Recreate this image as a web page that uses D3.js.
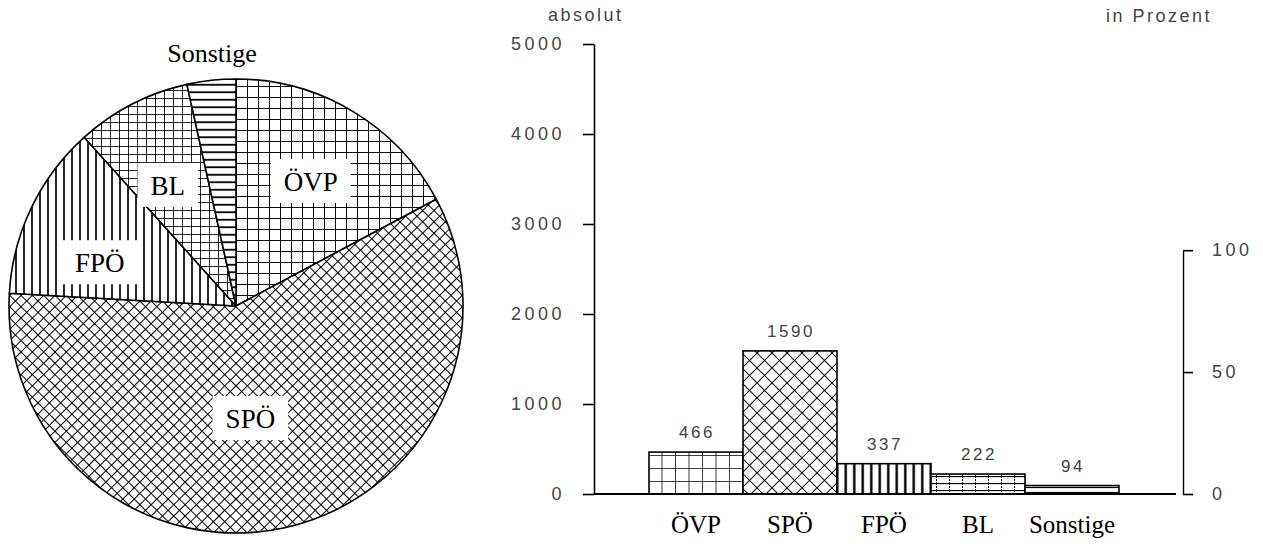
<!DOCTYPE html>
<html>
<head>
<meta charset="utf-8">
<script src="https://cdn.jsdelivr.net/npm/d3@7"></script>
<style>
  html, body { margin: 0; padding: 0; background: #fff; }
  svg { display: block; }
  .serif { font-family: "Liberation Serif", "DejaVu Serif", serif; fill: #000; }
  .sans { font-family: "Liberation Sans", Arial, sans-serif; fill: #444; }
</style>
</head>
<body>
<svg id="chart" width="1263" height="549"></svg>
<script>
// ---- data ----
const categories = ["ÖVP", "SPÖ", "FPÖ", "BL", "Sonstige"];
const values = [466, 1590, 337, 222, 94];
const leftTicks = [0, 1000, 2000, 3000, 4000, 5000];
const rightTicks = [0, 50, 100];
const leftAxisTitle = "absolut";
const rightAxisTitle = "in Prozent";

const total = d3.sum(values);
const svg = d3.select("#chart");
const defs = svg.append("defs");

// ---- hatch patterns ----
function gridPattern(id, sx, sy, w) {
  const p = defs.append("pattern").attr("id", id).attr("patternUnits", "userSpaceOnUse")
    .attr("width", sx).attr("height", sy);
  p.append("rect").attr("width", sx).attr("height", sy).attr("fill", "#fff");
  p.append("line").attr("x1", 0).attr("y1", 0).attr("x2", sx).attr("y2", 0).attr("stroke", "#000").attr("stroke-width", w);
  p.append("line").attr("x1", 0).attr("y1", 0).attr("x2", 0).attr("y2", sy).attr("stroke", "#000").attr("stroke-width", w);
}
function vPattern(id, s, w) {
  const p = defs.append("pattern").attr("id", id).attr("patternUnits", "userSpaceOnUse")
    .attr("width", s).attr("height", 10);
  p.append("rect").attr("width", s).attr("height", 10).attr("fill", "#fff");
  p.append("line").attr("x1", s / 2).attr("y1", 0).attr("x2", s / 2).attr("y2", 10).attr("stroke", "#000").attr("stroke-width", w);
}
function hPattern(id, s, w) {
  const p = defs.append("pattern").attr("id", id).attr("patternUnits", "userSpaceOnUse")
    .attr("width", 10).attr("height", s);
  p.append("rect").attr("width", 10).attr("height", s).attr("fill", "#fff");
  p.append("line").attr("x1", 0).attr("y1", s / 2).attr("x2", 10).attr("y2", s / 2).attr("stroke", "#000").attr("stroke-width", w);
}
function crossPattern(id, s, w) {
  const p = defs.append("pattern").attr("id", id).attr("patternUnits", "userSpaceOnUse")
    .attr("width", s).attr("height", s).attr("patternTransform", "rotate(45)");
  p.append("rect").attr("width", s).attr("height", s).attr("fill", "#fff");
  p.append("line").attr("x1", 0).attr("y1", 0).attr("x2", s).attr("y2", 0).attr("stroke", "#000").attr("stroke-width", w);
  p.append("line").attr("x1", 0).attr("y1", 0).attr("x2", 0).attr("y2", s).attr("stroke", "#000").attr("stroke-width", w);
}
// pie patterns
gridPattern("p-ovp", 11, 11, 1.9);
crossPattern("p-spo", 8, 2.0);
vPattern("p-fpo", 8, 1.7);
gridPattern("p-bl", 9, 8, 1.7);
hPattern("p-son", 7.5, 1.8);
// bar patterns
gridPattern("b-ovp", 13.5, 13, 1.5);
crossPattern("b-spo", 10.6, 1.8);
vPattern("b-fpo", 8.5, 2.4);
(function () {
  const p = defs.append("pattern").attr("id", "b-bl").attr("patternUnits", "userSpaceOnUse")
    .attr("width", 13).attr("height", 7);
  p.append("rect").attr("width", 13).attr("height", 7).attr("fill", "#fff");
  p.append("line").attr("x1", 0).attr("y1", 0.5).attr("x2", 13).attr("y2", 0.5).attr("stroke", "#000").attr("stroke-width", 1.3);
  p.append("line").attr("x1", 0.5).attr("y1", 0).attr("x2", 0.5).attr("y2", 7).attr("stroke", "#000").attr("stroke-width", 1.1).attr("stroke-dasharray", "2,1");
})();
hPattern("b-son", 5, 1.2);

const pieFill = ["url(#p-ovp)", "url(#p-spo)", "url(#p-fpo)", "url(#p-bl)", "url(#p-son)"];
const barFill = ["url(#b-ovp)", "url(#b-spo)", "url(#b-fpo)", "url(#b-bl)", "url(#b-son)"];

// ---- pie ----
const cx = 236, cy = 306, R = 227;
const pie = d3.pie().sort(null).startAngle(0).endAngle(2 * Math.PI);
const arcs = pie(values);
const arc = d3.arc().innerRadius(0).outerRadius(R);
const gPie = svg.append("g").attr("transform", `translate(${cx},${cy})`);
gPie.selectAll("path.slice").data(arcs).enter().append("path")
  .attr("class", "slice")
  .attr("d", arc)
  .attr("fill", (d, i) => pieFill[i])
  .attr("stroke", "#000").attr("stroke-width", 1.6).attr("stroke-linejoin", "round");

// labels inside slices (white boxes), last category label outside
const labelRadius = { "ÖVP": 0.64, "SPÖ": 0.5, "FPÖ": 0.63, "BL": 0.61 };
const labelAngleShift = { "ÖVP": 0, "SPÖ": 0.09, "FPÖ": -0.14, "BL": -0.04 };
arcs.forEach((d, i) => {
  const name = categories[i];
  if (name === "Sonstige") {
    const mid = (d.startAngle + d.endAngle) / 2;
    const lx = Math.sin(mid) * (R + 12) + 2;
    gPie.append("text").attr("class", "serif")
      .attr("x", lx).attr("y", -R - 17)
      .attr("text-anchor", "middle").attr("font-size", 26)
      .text(name);
    return;
  }
  const mid = (d.startAngle + d.endAngle) / 2 + labelAngleShift[name];
  const r = R * labelRadius[name];
  const lx = Math.sin(mid) * r, ly = -Math.cos(mid) * r;
  const g = gPie.append("g");
  const rect = g.append("rect").attr("fill", "#fff");
  const t = g.append("text").attr("class", "serif")
    .attr("x", lx).attr("y", ly).attr("dy", "0.35em")
    .attr("text-anchor", "middle").attr("font-size", 27)
    .text(name);
  const bb = t.node().getBBox();
  rect.attr("x", bb.x - 13).attr("y", bb.y - 8).attr("width", bb.width + 26).attr("height", bb.height + 14);
});

// ---- bar chart ----
const x = d3.scaleBand().domain(categories).range([649, 1119]).padding(0);
const y = d3.scaleLinear().domain([0, 5000]).range([494, 44]);
const yPct = d3.scaleLinear().domain([0, 100]).range([y(0), y(total)]);
const axisX = 594, axisRX = 1183;

svg.append("g").selectAll("rect.bar").data(values).enter().append("rect")
  .attr("class", "bar")
  .attr("x", (d, i) => x(categories[i]))
  .attr("y", d => y(d))
  .attr("width", x.bandwidth())
  .attr("height", d => y(0) - y(d))
  .attr("fill", (d, i) => barFill[i])
  .attr("stroke", "#000").attr("stroke-width", 1.6);

// baseline
svg.append("line")
  .attr("x1", axisX).attr("x2", x.range()[1] + 57)
  .attr("y1", y(0)).attr("y2", y(0))
  .attr("stroke", "#000").attr("stroke-width", 2);

// left axis
const gL = svg.append("g").attr("transform", `translate(${axisX},0)`)
  .call(d3.axisLeft(y).tickValues(leftTicks).tickSize(11).tickSizeOuter(0).tickPadding(18).tickFormat(d3.format("d")));
gL.select(".domain").attr("stroke", "#000").attr("stroke-width", 1.6);
gL.selectAll(".tick line").attr("stroke", "#000").attr("stroke-width", 1.6);
gL.selectAll(".tick text").attr("class", "sans").attr("font-size", 18)
  .attr("letter-spacing", 3.5).attr("fill", "#444");

// right axis
const gR = svg.append("g").attr("transform", `translate(${axisRX},0)`)
  .call(d3.axisRight(yPct).tickValues(rightTicks).tickSize(10).tickSizeOuter(0).tickPadding(19).tickFormat(d3.format("d")));
gR.select(".domain").attr("stroke", "#000").attr("stroke-width", 1.4);
gR.selectAll(".tick line").attr("stroke", "#000").attr("stroke-width", 1.6);
gR.selectAll(".tick text").attr("class", "sans").attr("font-size", 18)
  .attr("letter-spacing", 3.5).attr("fill", "#444");

// value labels
svg.append("g").selectAll("text.val").data(values).enter().append("text")
  .attr("class", "sans")
  .attr("x", (d, i) => x(categories[i]) + x.bandwidth() / 2 + 1)
  .attr("y", d => y(d) - 14)
  .attr("text-anchor", "middle").attr("font-size", 17).attr("letter-spacing", 2.5)
  .attr("fill", "#444")
  .text(d => d);

// category labels
svg.append("g").selectAll("text.cat").data(categories).enter().append("text")
  .attr("class", "serif")
  .attr("x", d => x(d) + x.bandwidth() / 2)
  .attr("y", 533)
  .attr("text-anchor", "middle").attr("font-size", 25)
  .text(d => d);

// axis titles
svg.append("text").attr("class", "sans").attr("x", 548).attr("y", 21)
  .attr("font-size", 18).attr("letter-spacing", 2.5).attr("fill", "#444").text(leftAxisTitle);
svg.append("text").attr("class", "sans").attr("x", 1106).attr("y", 22)
  .attr("font-size", 18).attr("letter-spacing", 2.5).attr("fill", "#444").text(rightAxisTitle);
</script>
</body>
</html>
